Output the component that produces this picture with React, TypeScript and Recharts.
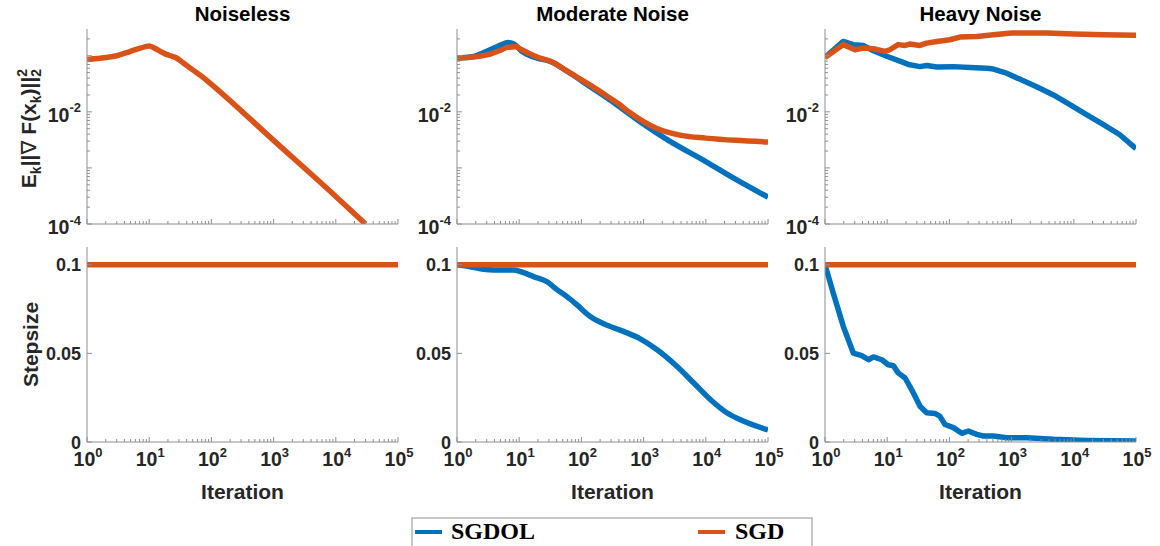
import React from 'react';
import { LineChart, Line, XAxis, YAxis } from 'recharts';

const BLUE = '#0072BD';
const ORANGE = '#D95319';
const AXIS = '#8f8f8f';
const INK = '#262626';
const SANS = '"Liberation Sans", Arial, Helvetica, sans-serif';
const SERIF = '"Liberation Serif", "DejaVu Serif", serif';

const SERIES_NAMES = ['SGDOL', 'SGD'];
const PANEL_TITLES = ['Noiseless', 'Moderate Noise', 'Heavy Noise'];
const X_LABEL = 'Iteration';
const STEP_LABEL = 'Stepsize';

const X_MAJOR_TICKS = [1, 10, 100, 1000, 10000, 100000];
const X_DOMAIN = [1, 100000];
const Y_LOG_MAJOR_TICKS = [0.0001, 0.001, 0.01, 0.1];
const Y_LOG_LABELED = [0.0001, 0.01];
const Y_LOG_DOMAIN = [0.0001, 0.3];
const Y_LIN_TICKS = [0, 0.05, 0.1];
const Y_LIN_TICK_LABELS = ['0', '0.05', '0.1'];
const Y_LIN_DOMAIN = [0, 0.11];
const MINOR_MULT = [2, 3, 4, 5, 6, 7, 8, 9];

// ---- Noiseless ----
const noiselessIter = [1, 2, 3, 5, 7, 10, 12, 15, 18, 22, 27, 35, 50, 70, 100, 1000, 10000, 30000];
const noiselessSgdGrad = [0.086, 0.093, 0.1, 0.12, 0.135, 0.15, 0.138, 0.12, 0.108, 0.1, 0.092, 0.075, 0.056, 0.043, 0.031, 0.0031, 0.00031, 0.0001];
const noiselessStepIter = [1, 100000];
const noiselessSgdStep = [0.1, 0.1];

// ---- Moderate noise ----
const moderateSgdolIter = [1, 1.85, 3.4, 5, 6.6, 8.2, 11, 15, 19.4, 31.6, 59, 139, 373, 1000, 2500, 10000, 30000, 100000];
const moderateSgdolGrad = [0.091, 0.097, 0.128, 0.155, 0.172, 0.162, 0.12, 0.1, 0.091, 0.079, 0.053, 0.028, 0.0133, 0.006, 0.0031, 0.0013, 0.00063, 0.0003];
const moderateSgdIter = [1, 1.85, 3.4, 5, 6.4, 8.7, 11, 15, 19.4, 33.5, 59, 139, 250, 400, 600, 1000, 1600, 2500, 4000, 10000, 30000, 100000];
const moderateSgdGrad = [0.091, 0.095, 0.107, 0.125, 0.141, 0.145, 0.128, 0.108, 0.095, 0.078, 0.053, 0.03, 0.0195, 0.0138, 0.0097, 0.0067, 0.0051, 0.0043, 0.0038, 0.0034, 0.0031, 0.0029];
const moderateSgdolStepIter = [1, 1.64, 2.68, 3.9, 8.2, 11.8, 17, 28, 40, 58.6, 85, 139, 228, 475, 885, 1650, 3420, 6400, 11800, 21800, 40000, 100000];
const moderateSgdolStep = [0.1, 0.0989, 0.0974, 0.097, 0.097, 0.0955, 0.0933, 0.0904, 0.0861, 0.082, 0.0773, 0.0708, 0.0667, 0.0624, 0.0582, 0.052, 0.0427, 0.0333, 0.024, 0.0165, 0.0118, 0.0068];
const moderateSgdStepIter = [1, 100000];
const moderateSgdStep = [0.1, 0.1];

// ---- Heavy noise ----
const heavySgdolIter = [1, 1.97, 2.85, 4.1, 6, 9.8, 16, 23, 33.7, 43, 63, 116, 215, 400, 510, 830, 1370, 2530, 4700, 8800, 16000, 30000, 55000, 100000];
const heavySgdolGrad = [0.093, 0.18, 0.158, 0.153, 0.123, 0.098, 0.08, 0.069, 0.064, 0.067, 0.063, 0.064, 0.062, 0.06, 0.058, 0.049, 0.038, 0.028, 0.02, 0.0133, 0.0089, 0.0059, 0.0039, 0.0022];
const heavySgdIter = [1, 1.97, 3.04, 4.1, 6, 9.2, 11, 15, 19.4, 23, 33.7, 43, 63, 102, 148, 275, 510, 1000, 3700, 10000, 30000, 100000];
const heavySgdGrad = [0.093, 0.158, 0.128, 0.137, 0.133, 0.12, 0.128, 0.158, 0.153, 0.162, 0.153, 0.168, 0.18, 0.193, 0.215, 0.221, 0.237, 0.254, 0.254, 0.244, 0.237, 0.231];
const heavySgdolStepIter = [1, 1.36, 1.97, 2.85, 3.9, 5, 6, 8.2, 10.4, 12.6, 15, 19.4, 24.7, 33.7, 43, 58.6, 70, 85, 116, 158, 202, 275, 350, 510, 830, 1750, 4700, 16000, 100000];
const heavySgdolStep = [0.1, 0.0839, 0.0652, 0.0502, 0.0487, 0.0464, 0.048, 0.0464, 0.0436, 0.043, 0.039, 0.0361, 0.0296, 0.0202, 0.0165, 0.0161, 0.0146, 0.0099, 0.0081, 0.0049, 0.0062, 0.0043, 0.0034, 0.0034, 0.0024, 0.0024, 0.0015, 0.0009, 0.0006];
const heavySgdStepIter = [1, 100000];
const heavySgdStep = [0.1, 0.1];

type Pt = { x: number; y: number };
const zip = (xs: number[], ys: number[]): Pt[] => xs.map((x, i) => ({ x, y: ys[i] }));

const near = (v: number, list: number[]) => list.some((m) => Math.abs(m - v) <= Math.abs(m) * 1e-9 + 1e-15);

const X_TICKS = [...X_MAJOR_TICKS, ...X_MAJOR_TICKS.slice(0, -1).flatMap((d) => MINOR_MULT.map((m) => m * d))].sort((a, b) => a - b);
const Y_LOG_TICKS = [...Y_LOG_MAJOR_TICKS, ...Y_LOG_MAJOR_TICKS.flatMap((d) => MINOR_MULT.map((m) => m * d))]
  .filter((v) => v < Y_LOG_DOMAIN[1] * 0.999)
  .sort((a, b) => a - b);

const tickLen = (major: boolean) => (major ? 5 : 3);

function makeXTick(labels: boolean, dir: number) {
  return (p: any) => {
    const { x, y, payload } = p;
    const v = payload.value;
    const major = near(v, X_MAJOR_TICKS);
    const exp = Math.round(Math.log10(v));
    return (
      <g>
        <line x1={x} x2={x} y1={y} y2={y + dir * tickLen(major)} stroke={AXIS} strokeWidth={1} />
        {labels && major && (
          <text x={x + 1} y={y + 24} textAnchor="middle" fontFamily={SANS} fontWeight={700} fontSize={19.5} fill={INK}>
            10
            <tspan fontSize={13} dy={-9.5}>
              {exp}
            </tspan>
          </text>
        )}
      </g>
    );
  };
}

function makeYTick(kind: 'log' | 'lin', labels: boolean, dir: number) {
  return (p: any) => {
    const { x, y, payload } = p;
    const v = payload.value;
    const major = kind === 'lin' ? true : near(v, Y_LOG_MAJOR_TICKS);
    let label: React.ReactNode = null;
    if (labels) {
      if (kind === 'lin') {
        const idx = Y_LIN_TICKS.findIndex((t) => Math.abs(t - v) < 1e-12);
        label = (
          <text x={x - 6} y={y + 6.5} textAnchor="end" fontFamily={SANS} fontWeight={700} fontSize={18} fill={INK}>
            {Y_LIN_TICK_LABELS[idx]}
          </text>
        );
      } else if (near(v, Y_LOG_LABELED)) {
        const exp = Math.round(Math.log10(v));
        label = (
          <text x={x - 6} y={y + 10} textAnchor="end" fontFamily={SANS} fontWeight={700} fontSize={19.5} fill={INK}>
            10
            <tspan fontSize={13} dy={-9.5}>
              {String(exp)}
            </tspan>
          </text>
        );
      }
    }
    return (
      <g>
        <line x1={x} x2={x + dir * tickLen(major)} y1={y} y2={y} stroke={AXIS} strokeWidth={1} />
        {label}
      </g>
    );
  };
}

type Series = { data: Pt[]; color: string; name: string; curve: 'linear' | 'monotone' };

const PW = 311;
const PH = 195;
const YW = 87;
const RM = 24;
const PLOT_LEFTS = [87, 457, 825];

function GradLabel(p: any) {
  const vb = p.viewBox || { x: 0, y: 0, width: 0, height: 0 };
  const cx = vb.x + 36;
  const cy = vb.y + vb.height / 2 + 2;
  return (
    <text
      x={cx}
      y={cy}
      transform={`rotate(-90, ${cx}, ${cy})`}
      textAnchor="middle"
      fontFamily={SANS}
      fontWeight={700}
      fontSize={21}
      fill={INK}
    >
      E
      <tspan fontSize={14} dy={5}>k</tspan>
      <tspan dy={-5}>||</tspan>
      <tspan fontWeight={400} fontFamily={'"DejaVu Sans", sans-serif'}>∇</tspan>
      <tspan> F(x</tspan>
      <tspan fontSize={14} dy={5}>k</tspan>
      <tspan dy={-5}>)||</tspan>
      <tspan fontSize={14} dy={5}>2</tspan>
      <tspan fontSize={14} dx={-7.8} dy={-14}>2</tspan>
    </text>
  );
}

function StepLabel(p: any) {
  const vb = p.viewBox || { x: 0, y: 0, width: 0, height: 0 };
  const cx = vb.x + 38;
  const cy = vb.y + vb.height / 2;
  return (
    <text x={cx} y={cy} transform={`rotate(-90, ${cx}, ${cy})`} textAnchor="middle" fontFamily={SANS} fontWeight={700} fontSize={21} fill={INK}>
      {STEP_LABEL}
    </text>
  );
}

function Panel({ col, row, series }: { col: number; row: number; series: Series[] }) {
  const isTop = row === 0;
  const mTop = isTop ? 29 : 17;
  const xh = isTop ? 16 : 70;
  const height = mTop + PH + xh;
  const width = YW + PW + RM;
  const plotLeft = PLOT_LEFTS[col];
  const yTicks = isTop ? Y_LOG_TICKS : Y_LIN_TICKS;
  const yDomain = isTop ? Y_LOG_DOMAIN : Y_LIN_DOMAIN;
  const yScale = isTop ? 'log' : 'linear';
  const kind = isTop ? 'log' : 'lin';

  const xLabelContent = (p: any) => {
    const vb = p.viewBox || { x: 0, y: 0, width: 0 };
    return (
      <text x={vb.x + vb.width / 2} y={vb.y + 57} textAnchor="middle" fontFamily={SANS} fontWeight={700} fontSize={21} fill={INK}>
        {X_LABEL}
      </text>
    );
  };

  return (
    <div style={{ position: 'absolute', left: plotLeft - YW, top: isTop ? 0 : 230 }}>
      <LineChart width={width} height={height} margin={{ top: mTop, right: RM, bottom: 0, left: 0 }}>
        <XAxis
          xAxisId="b"
          dataKey="x"
          type="number"
          scale="log"
          domain={X_DOMAIN}
          allowDataOverflow
          ticks={X_TICKS}
          interval={0}
          tickSize={0}
          tickMargin={0}
          tickLine={false}
          axisLine={{ stroke: AXIS }}
          height={xh}
          tick={makeXTick(!isTop, -1)}
          label={!isTop ? { content: xLabelContent } : undefined}
        />
        <XAxis
          xAxisId="t"
          orientation="top"
          dataKey="x"
          type="number"
          scale="log"
          domain={X_DOMAIN}
          allowDataOverflow
          ticks={X_TICKS}
          interval={0}
          tickSize={0}
          tickMargin={0}
          tickLine={false}
          axisLine={{ stroke: AXIS }}
          height={0}
          tick={makeXTick(false, 1)}
        />
        <YAxis
          yAxisId="l"
          type="number"
          scale={yScale}
          domain={yDomain}
          allowDataOverflow
          ticks={yTicks}
          interval={0}
          tickSize={0}
          tickMargin={0}
          tickLine={false}
          axisLine={{ stroke: AXIS }}
          width={YW}
          tick={makeYTick(kind, true, 1)}
          label={col === 0 ? { content: isTop ? GradLabel : StepLabel } : undefined}
        />
        <YAxis
          yAxisId="r"
          orientation="right"
          type="number"
          scale={yScale}
          domain={yDomain}
          allowDataOverflow
          ticks={yTicks}
          interval={0}
          tickSize={0}
          tickMargin={0}
          tickLine={false}
          axisLine={{ stroke: AXIS }}
          width={0}
          tick={makeYTick(kind, false, -1)}
        />
        {series.map((s) => (
          <Line
            key={s.name}
            xAxisId="b"
            yAxisId="l"
            data={s.data}
            dataKey="y"
            name={s.name}
            type={s.curve}
            stroke={s.color}
            strokeWidth={5.5}
            strokeLinejoin="round"
            dot={false}
            activeDot={false}
            isAnimationActive={false}
          />
        ))}
      </LineChart>
    </div>
  );
}

const PANELS: { col: number; row: number; series: Series[] }[] = [
  { col: 0, row: 0, series: [{ data: zip(noiselessIter, noiselessSgdGrad), color: ORANGE, name: SERIES_NAMES[1], curve: 'monotone' }] },
  {
    col: 1,
    row: 0,
    series: [
      { data: zip(moderateSgdolIter, moderateSgdolGrad), color: BLUE, name: SERIES_NAMES[0], curve: 'monotone' },
      { data: zip(moderateSgdIter, moderateSgdGrad), color: ORANGE, name: SERIES_NAMES[1], curve: 'monotone' },
    ],
  },
  {
    col: 2,
    row: 0,
    series: [
      { data: zip(heavySgdolIter, heavySgdolGrad), color: BLUE, name: SERIES_NAMES[0], curve: 'linear' },
      { data: zip(heavySgdIter, heavySgdGrad), color: ORANGE, name: SERIES_NAMES[1], curve: 'linear' },
    ],
  },
  { col: 0, row: 1, series: [{ data: zip(noiselessStepIter, noiselessSgdStep), color: ORANGE, name: SERIES_NAMES[1], curve: 'linear' }] },
  {
    col: 1,
    row: 1,
    series: [
      { data: zip(moderateSgdolStepIter, moderateSgdolStep), color: BLUE, name: SERIES_NAMES[0], curve: 'monotone' },
      { data: zip(moderateSgdStepIter, moderateSgdStep), color: ORANGE, name: SERIES_NAMES[1], curve: 'linear' },
    ],
  },
  {
    col: 2,
    row: 1,
    series: [
      { data: zip(heavySgdolStepIter, heavySgdolStep), color: BLUE, name: SERIES_NAMES[0], curve: 'linear' },
      { data: zip(heavySgdStepIter, heavySgdStep), color: ORANGE, name: SERIES_NAMES[1], curve: 'linear' },
    ],
  },
];

function Titles() {
  return (
    <svg style={{ position: 'absolute', left: 0, top: 0 }} width={1160} height={28}>
      {PANEL_TITLES.map((t, i) => (
        <text key={t} x={PLOT_LEFTS[i] + PW / 2} y={21} textAnchor="middle" fontFamily={SANS} fontWeight={700} fontSize={20.5} fill="#000">
          {t}
        </text>
      ))}
    </svg>
  );
}

function LegendBox() {
  return (
    <svg style={{ position: 'absolute', left: 400, top: 508 }} width={430} height={38}>
      <rect x={12} y={10} width={400} height={40} fill="#fff" stroke={AXIS} strokeWidth={1} />
      <line x1={15} x2={42} y1={24} y2={24} stroke={BLUE} strokeWidth={4} />
      <text x={51} y={31} fontFamily={SERIF} fontWeight={700} fontSize={24} fill="#000">
        {SERIES_NAMES[0]}
      </text>
      <line x1={298} x2={325} y1={24} y2={24} stroke={ORANGE} strokeWidth={4} />
      <text x={335} y={31} fontFamily={SERIF} fontWeight={700} fontSize={24} fill="#000">
        {SERIES_NAMES[1]}
      </text>
    </svg>
  );
}

export default function App() {
  return (
    <div style={{ position: 'absolute', left: 0, top: 0, width: 1160, height: 546, background: '#fff', overflow: 'hidden' }}>
      {PANELS.map((p) => (
        <Panel key={`${p.row}-${p.col}`} col={p.col} row={p.row} series={p.series} />
      ))}
      <Titles />
      <LegendBox />
    </div>
  );
}
